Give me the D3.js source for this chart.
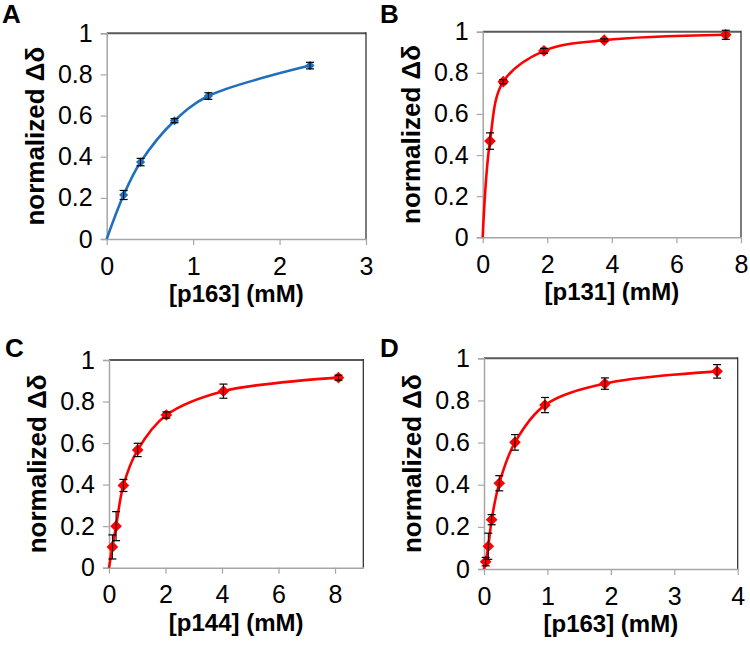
<!DOCTYPE html>
<html>
<head>
<meta charset="utf-8">
<script src="https://cdn.jsdelivr.net/npm/d3@7"></script>
<style>
  html, body { margin: 0; padding: 0; background: #fff; }
  svg { display: block; font-family: "Liberation Sans", Arial, sans-serif; }
</style>
</head>
<body>
<svg id="chart" width="750" height="648"></svg>
<script>
// ---- data ----
const yTicks = [0, 0.2, 0.4, 0.6, 0.8, 1];
const yTickLabels = ["0", "0.2", "0.4", "0.6", "0.8", "1"];
const yAxisTitle = "normalized Δδ";

// Panel A: [p163] (blue)
const concA = [0.196, 0.392, 0.784, 1.176, 2.352];
const normA = [0.214, 0.374, 0.575, 0.695, 0.843];
const errA  = [0.022, 0.018, 0.010, 0.016, 0.016];
const xTicksA = [0, 1, 2, 3];
const xTitleA = "[p163] (mM)";

// Panel B: [p131]
const concB = [0.226, 0.636, 1.897, 3.764, 7.528];
const normB = [0.468, 0.757, 0.907, 0.959, 0.985];
const errB  = [0.040, 0.010, 0.012, 0.006, 0.022];
const xTicksB = [0, 2, 4, 6, 8];
const xTitleB = "[p131] (mM)";

// Panel C: [p144]
const concC = [0.12, 0.25, 0.51, 1.015, 2.03, 4.05, 8.12];
const normC = [0.100, 0.200, 0.396, 0.567, 0.735, 0.850, 0.915];
const errC  = [0.058, 0.070, 0.029, 0.032, 0.015, 0.034, 0.012];
const xTicksC = [0, 2, 4, 6, 8];
const xTitleC = "[p144] (mM)";

// Panel D: [p163]
const concD = [0.026, 0.068, 0.121, 0.241, 0.488, 0.961, 1.906, 3.675];
const normD = [0.035, 0.108, 0.234, 0.407, 0.601, 0.778, 0.880, 0.938];
const errD  = [0.020, 0.062, 0.024, 0.036, 0.037, 0.036, 0.027, 0.032];
const xTicksD = [0, 1, 2, 3, 4];
const xTitleD = "[p163] (mM)";

// ---- layout ----
const panels = [
  { letter: "A", conc: concA, norm: normA, err: errA, xTicks: xTicksA, xMax: 3, xTitle: xTitleA,
    box: { l: 106.7, t: 33.3, r: 366, b: 239 }, color: "#1f6fbf", marker: 42, lx: 2, ly: 23 },
  { letter: "B", conc: concB, norm: normB, err: errB, xTicks: xTicksB, xMax: 8, xTitle: xTitleB,
    box: { l: 482.7, t: 31.7, r: 741, b: 237.3 }, color: "#ff0000", marker: 68, lx: 380, ly: 23 },
  { letter: "C", conc: concC, norm: normC, err: errC, xTicks: xTicksC, xMax: 9, xTitle: xTitleC,
    box: { l: 109, t: 360, r: 363.3, b: 567.7 }, color: "#ff0000", marker: 68, lx: 5, ly: 357 },
  { letter: "D", conc: concD, norm: normD, err: errD, xTicks: xTicksD, xMax: 4, xTitle: xTitleD,
    box: { l: 484, t: 358.3, r: 737.7, b: 569 }, color: "#ff0000", marker: 68, lx: 380, ly: 357 }
];

const svg = d3.select("#chart");

panels.forEach(p => {
  const g = svg.append("g");
  const x = d3.scaleLinear().domain([0, p.xMax]).range([p.box.l, p.box.r]);
  const y = d3.scaleLinear().domain([0, 1]).range([p.box.b, p.box.t]);

  // plot border top/right
  g.append("line").attr("x1", p.box.l).attr("x2", p.box.r).attr("y1", p.box.t).attr("y2", p.box.t)
    .attr("stroke", "#595959").attr("stroke-width", 2);
  g.append("line").attr("x1", p.box.r).attr("x2", p.box.r).attr("y1", p.box.t - 1).attr("y2", p.box.b)
    .attr("stroke", "#262626").attr("stroke-width", 1.2);

  // y axis
  const yAxis = d3.axisLeft(y).tickValues(yTicks).tickFormat((d, i) => yTickLabels[i])
    .tickSize(6).tickPadding(8);
  const ya = g.append("g").attr("transform", `translate(${p.box.l},0)`).call(yAxis);
  ya.select(".domain").attr("stroke", "#a6a6a6").attr("stroke-width", 1.5);
  ya.selectAll(".tick line").attr("stroke", "#a6a6a6").attr("stroke-width", 1.2);
  ya.selectAll(".tick text").attr("font-size", 25).attr("fill", "#000")
    .attr("font-family", "Liberation Sans, Arial, sans-serif");

  // x axis
  const xAxis = d3.axisBottom(x).tickValues(p.xTicks).tickFormat(d3.format("d"))
    .tickSize(6).tickSizeOuter(0).tickPadding(12);
  const xa = g.append("g").attr("transform", `translate(0,${p.box.b})`).call(xAxis);
  xa.select(".domain").attr("stroke", "#a6a6a6").attr("stroke-width", 1.5);
  xa.selectAll(".tick line").attr("stroke", "#a6a6a6").attr("stroke-width", 1.2);
  xa.selectAll(".tick text").attr("font-size", 25).attr("fill", "#000")
    .attr("font-family", "Liberation Sans, Arial, sans-serif");

  // axis titles
  g.append("text")
    .attr("x", (p.box.l + p.box.r) / 2).attr("y", p.box.b + 63)
    .attr("text-anchor", "middle").attr("font-size", 24).attr("font-weight", "bold")
    .text(p.xTitle);
  g.append("text")
    .attr("transform", `translate(${p.box.l - 63},${(p.box.t + p.box.b) / 2}) rotate(-90)`)
    .attr("text-anchor", "middle").attr("font-size", 26).attr("font-weight", "bold")
    .text(yAxisTitle);

  // panel letter
  g.append("text").attr("x", p.lx).attr("y", p.ly)
    .attr("font-size", 26).attr("font-weight", "bold").text(p.letter);

  // curve through origin and data points
  const pts = [[0, 0]].concat(p.conc.map((c, i) => [c, p.norm[i]]));
  const line = d3.line().x(d => x(d[0])).y(d => y(d[1])).curve(d3.curveCatmullRom.alpha(0.5));
  g.append("path").datum(pts).attr("d", line).attr("fill", "none")
    .attr("stroke", p.color).attr("stroke-width", 2.6);

  // markers
  const sym = d3.symbol().type(d3.symbolSquare).size(p.marker);
  g.selectAll(".mk").data(p.conc).enter().append("path")
    .attr("d", sym)
    .attr("transform", (c, i) => `translate(${x(c)},${y(p.norm[i])}) rotate(45)`)
    .attr("fill", p.color);

  // error bars
  const eb = g.selectAll(".eb").data(p.conc).enter().append("g");
  eb.append("line")
    .attr("x1", c => x(c)).attr("x2", c => x(c))
    .attr("y1", (c, i) => y(p.norm[i] - p.err[i])).attr("y2", (c, i) => y(p.norm[i] + p.err[i]))
    .attr("stroke", "#000").attr("stroke-width", 1);
  [-1, 1].forEach(s => {
    eb.append("line")
      .attr("x1", c => x(c) - 4).attr("x2", c => x(c) + 4)
      .attr("y1", (c, i) => y(p.norm[i] + s * p.err[i])).attr("y2", (c, i) => y(p.norm[i] + s * p.err[i]))
      .attr("stroke", "#000").attr("stroke-width", 1.2);
  });
});
</script>
</body>
</html>
